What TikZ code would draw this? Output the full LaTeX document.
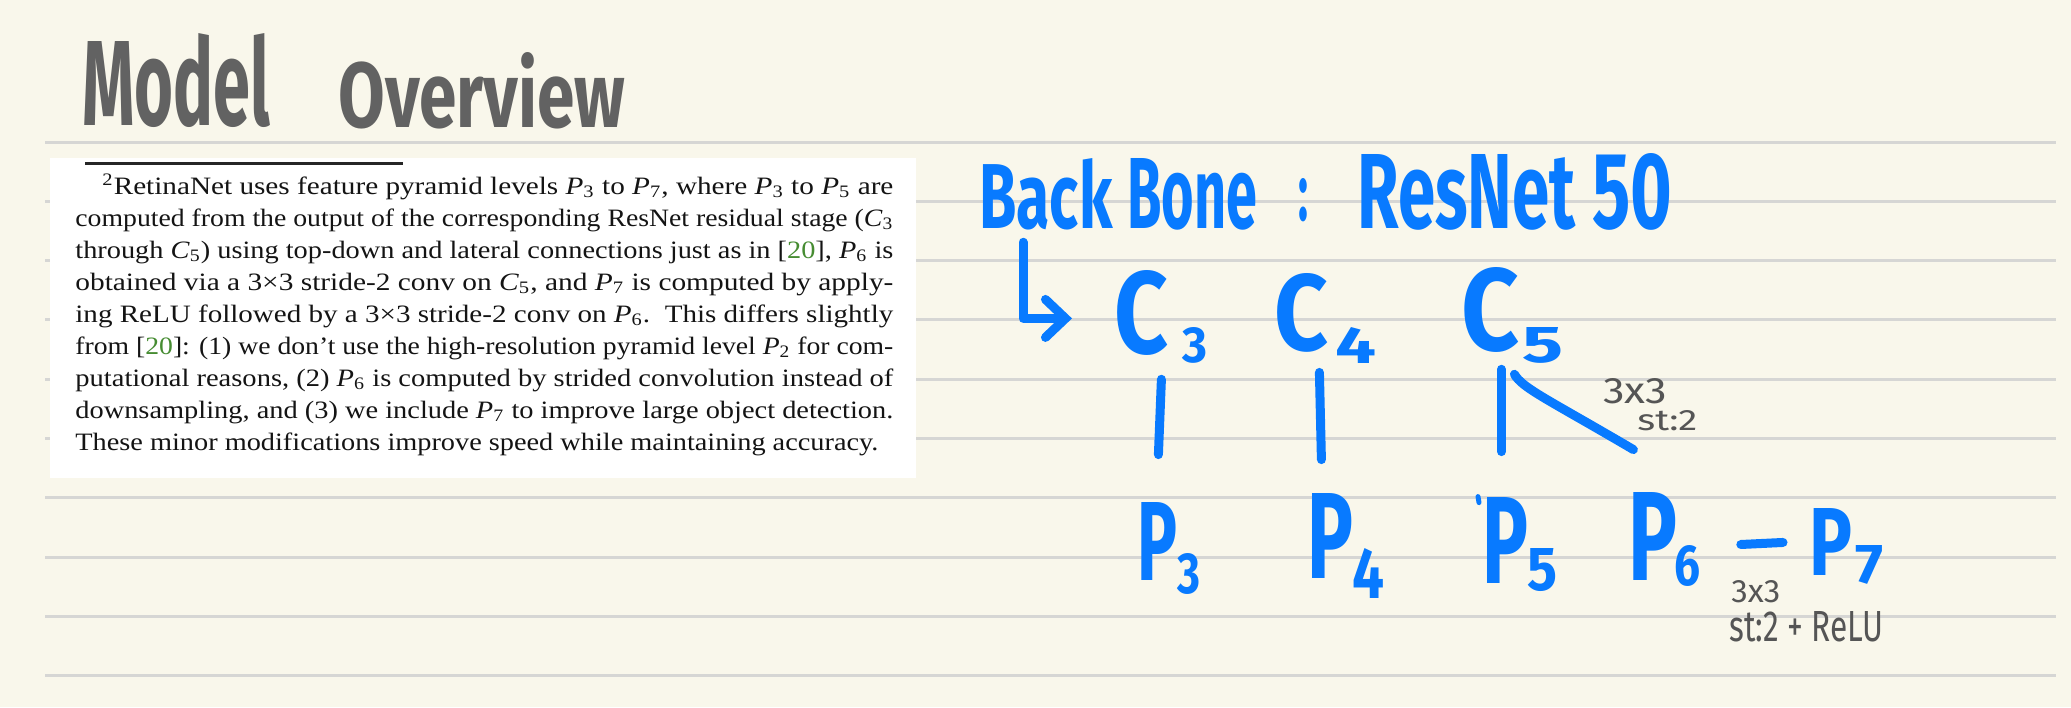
\documentclass[tikz,border=0pt]{standalone}
\usepackage{fontspec}
\setmainfont{Liberation Serif}
\newfontfamily\handfont{Fira Sans}
\usetikzlibrary{calc,arrows.meta}
\newlength\pxu \setlength\pxu{0.5pt}
\newcommand\myrb[3]{\resizebox{#1\pxu}{#2\pxu}{#3}}
\newcommand\myfl[2]{\resizebox{#1\pxu}{\height}{#2}}
\newcommand\fnP[1]{\textit{P}\textsubscript{#1}}
\newcommand\fnC[1]{\textit{C}\textsubscript{#1}}
\newcommand\grn[1]{\textcolor{citegreen}{#1}}
\definecolor{paper}{RGB}{249,247,235}
\definecolor{rulegrey}{RGB}{214,214,212}
\definecolor{ink}{RGB}{8,122,255}
\definecolor{pencil}{RGB}{98,98,98}
\definecolor{note}{RGB}{85,85,85}
\definecolor{citegreen}{RGB}{70,140,50}
\begin{document}
\begin{tikzpicture}[x=0.5pt,y=-0.5pt,
  hand/.style={draw=ink, line width=4.5pt, line cap=round, line join=round},
  handtext/.style={text=ink, font=\handfont\bfseries, inner sep=0pt, anchor=base west},
  notetext/.style={text=note, inner sep=0pt, align=left, anchor=north west},
  fn/.style={font=\fontsize{12.5}{15}\selectfont, inner sep=0pt, anchor=base west, text=black!92},
  ruling/.style={draw=rulegrey, line width=1.5pt}]

\fill[paper] (0,0) rectangle (2071,707);
\useasboundingbox (0,0) rectangle (2071,707);
\foreach \k in {0,...,9} \draw[ruling] (45,{142+59.3*\k}) -- (2056,{142+59.3*\k});

% title
\node[text=pencil, font=\handfont\bfseries, inner sep=0pt, anchor=base west] (title) at (82,125)
  {\myrb{188}{92}{Model}\hspace{68\pxu}\raisebox{-3\pxu}{\myrb{287}{75}{Overview}}};

% pasted footnote
\fill[white] (50,158) rectangle (916,478);
\draw[black!85, line width=1.5pt] (85,163) -- (403,163);
\node[fn] (f1) at (102,194) {\myfl{791}{\textsuperscript{2}RetinaNet uses feature pyramid levels \fnP{3} to \fnP{7}, where \fnP{3} to \fnP{5} are}};
\node[fn] (f2) at (75,226) {\myfl{818}{computed from the output of the corresponding ResNet residual stage (\fnC{3}}};
\node[fn] (f3) at (75,258) {\myfl{818}{through \fnC{5}) using top-down and lateral connections just as in [\grn{20}], \fnP{6} is}};
\node[fn] (f4) at (75,290) {\myfl{818}{obtained via a 3×3 stride-2 conv on \fnC{5}, and \fnP{7} is computed by apply-}};
\node[fn] (f5) at (75,322) {\myfl{818}{ing ReLU followed by a 3×3 stride-2 conv on \fnP{6}.\ \ This differs slightly}};
\node[fn] (f6) at (75,354) {\myfl{818}{from [\grn{20}]: (1) we don’t use the high-resolution pyramid level \fnP{2} for com-}};
\node[fn] (f7) at (75,386) {\myfl{818}{putational reasons, (2) \fnP{6} is computed by strided convolution instead of}};
\node[fn] (f8) at (75,418) {\myfl{818}{downsampling, and (3) we include \fnP{7} to improve large object detection.}};
\node[fn] (f9) at (75,450) {\myfl{803}{These minor modifications improve speed while maintaining accuracy.}};

% blue handwriting
\node[handtext] (bb) at (979,228)
  {\myrb{133}{70}{Back}\hspace{15\pxu}\myrb{130}{70}{Bone}\hspace{41\pxu}\raisebox{8\pxu}{\myrb{10}{42}{:}}\hspace{49\pxu}\myrb{218}{74}{ResNet}\hspace{17\pxu}\myrb{80}{75}{50}};

\node[handtext] (c3) at (1114,353) {\myrb{54}{83}{C}\hspace{14\pxu}\raisebox{-9\pxu}{\myrb{25}{35}{3}}};
\node[handtext] (c4) at (1274,350) {\myrb{54}{77}{C}\hspace{7\pxu}\raisebox{-13\pxu}{\myrb{41}{36}{4}}};
\node[handtext] (c5) at (1461,350) {\myrb{58}{83}{C}\hspace{3\pxu}\raisebox{-12\pxu}{\myrb{41}{35}{5}}};

\node[handtext] (p3) at (1137,580) {\myrb{40}{78}{P}\raisebox{-13\pxu}{\myrb{23}{40}{3}}};
\node[handtext] (p4) at (1307,578) {\myrb{46}{85}{P}\hspace{-1\pxu}\raisebox{-20\pxu}{\myrb{32}{50}{4}}};
\node[handtext] (p5) at (1482,583) {\myrb{46}{86}{P}\hspace{-1\pxu}\raisebox{-7\pxu}{\myrb{30}{42}{5}}};
\node[handtext] (p6) at (1628,580) {\myrb{49}{88}{P}\hspace{-3\pxu}\raisebox{-5\pxu}{\myrb{26}{40}{6}}};
\node[handtext] (p7) at (1809,575) {\myrb{43}{67}{P}\hspace{3\pxu}\raisebox{-8\pxu}{\myrb{28}{38}{7}}};

% connectors
\draw[hand, -{Straight Barb[length=10pt, width=19pt, line cap=round]}]
  ($(bb.south west)+(44,12)$) |- ($(c3.west)+(-42,2)$);
\draw[hand] ($(c3.south)+(0.5,16)$) -- ($(c3.south |- p3.north)+(-2.5,-47)$);
\draw[hand] ($(c4.south)+(-6,9)$) -- ($(c4.south |- p4.north)+(-4,-33)$);
\draw[hand] ($(c5.south)+(-11,6)$) -- ($(c5.south |- p5.north)+(-11,-45)$);
\draw[hand] ($(c5.south)+(2,11)$) .. controls +(8,14) and +(-85,-50) .. ($(p6.north)+(-31,-42)$);
\draw[hand] ($(p6.east)+(40,5.5)$) -- ($(p7.west)+(-26,-3.5)$);
\draw[draw=ink, line width=2.5pt, line cap=round] ($(p5.north west)+(-4,0)$) -- ($(p5.north west)+(-3,6)$);

% notes
\node[notetext, font=\handfont\fontsize{10}{13.5}\selectfont] (n1) at (1603,378)
  {\myrb{64}{25}{3x3}\\\hspace*{34\pxu}\myrb{60}{20}{st:2}};
\node[notetext, font=\handfont\fontsize{12}{19.5}\selectfont] (n2) at (1729,580)
  {\hspace*{2\pxu}\myrb{49}{22}{3x3}\\\myrb{154}{30}{st:2 + ReLU}};
\end{tikzpicture}
\end{document}
